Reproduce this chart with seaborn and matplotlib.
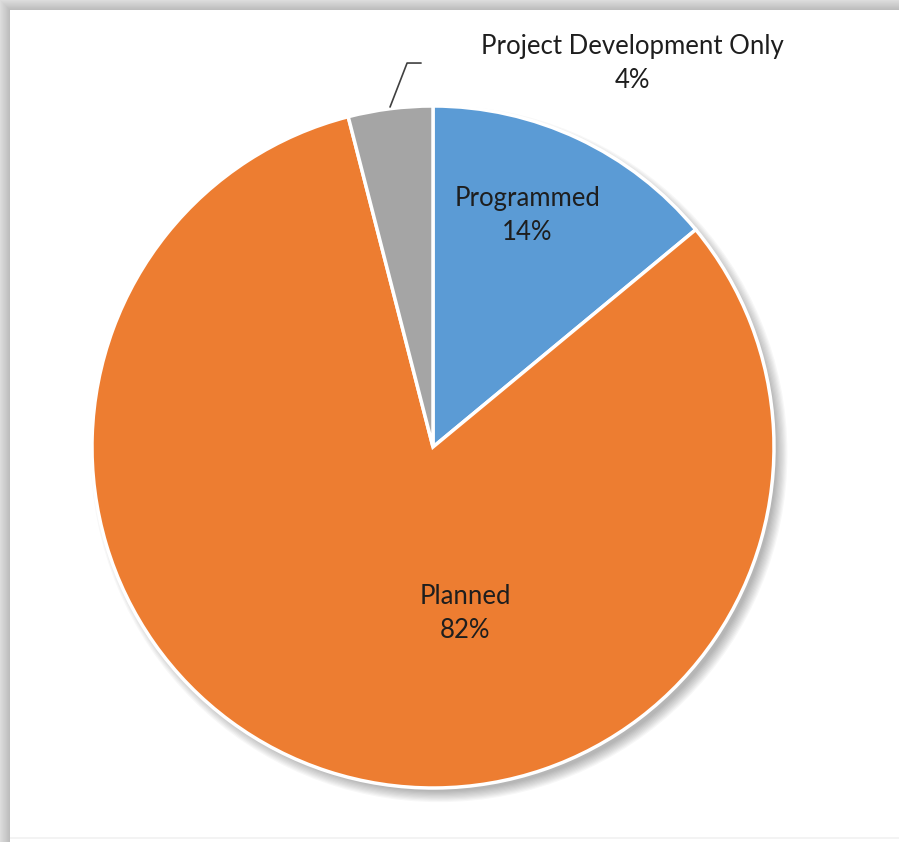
import numpy as np
import matplotlib
matplotlib.use("Agg")
import matplotlib.pyplot as plt
import seaborn as sns
from matplotlib.patches import Circle

# Share of projects by status
categories = ["Programmed", "Planned", "Project Development Only"]
shares = [14, 82, 4]
slice_colors = ["#5B9BD5", "#ED7D31", "#A5A5A5"]

sns.set_theme(style="white")
plt.rcParams["font.family"] = ["Lato", "DejaVu Sans"]

W, H = 899, 842
fig = plt.figure(figsize=(W / 100, H / 100), dpi=100)

# Card background with a soft grey shadow along the top and left edges
frame = np.ones((H, W))
edge = 10
ramp = np.linspace(0.86, 0.74, edge)
for i in range(edge):
    frame[i, i:] = np.minimum(frame[i, i:], ramp[i])
    frame[i:, i] = np.minimum(frame[i:, i], ramp[i])
frame[H - 5:H - 3, edge:] = 0.95
bg = fig.add_axes([0, 0, 1, 1])
bg.imshow(frame, cmap="gray", vmin=0, vmax=1, extent=[0, 1, 0, 1],
          aspect="auto", interpolation="bilinear")
bg.axis("off")

cx, cy, r = 433, 447, 341
ax = fig.add_axes([(cx - r) / W, (H - cy - r) / H, 2 * r / W, 2 * r / H])
ax.set_zorder(2)

# Soft drop shadow under the pie, cast towards the lower right
for k in range(10):
    ax.add_patch(Circle((0.018, -0.02), 0.99 + 0.0035 * k, color="black",
                        alpha=0.03, lw=0, zorder=0, clip_on=False))

ax.pie(shares, colors=slice_colors, startangle=90, counterclock=False,
       radius=1, wedgeprops=dict(edgecolor="white", linewidth=2.5, zorder=1))
ax.set_xlim(-1, 1)
ax.set_ylim(-1, 1)
ax.set_aspect("equal")
ax.axis("off")

text_kw = dict(ha="center", va="center", fontsize=18.5, color="#1e1e1e",
               linespacing=1.45, zorder=5)
label_pos = [(0.276, 0.680), (0.094, -0.487), (0.584, 1.126)]
for name, val, (x, y) in zip(categories, shares, label_pos):
    ax.text(x, y, f"{name}\n{val}%", clip_on=False, **text_kw)

# Leader line for the small slice
ax.plot([-0.126, -0.076, -0.035], [0.997, 1.126, 1.126], color="#404040",
        lw=1.2, clip_on=False, zorder=5)

fig.savefig("out.png", dpi=100)
